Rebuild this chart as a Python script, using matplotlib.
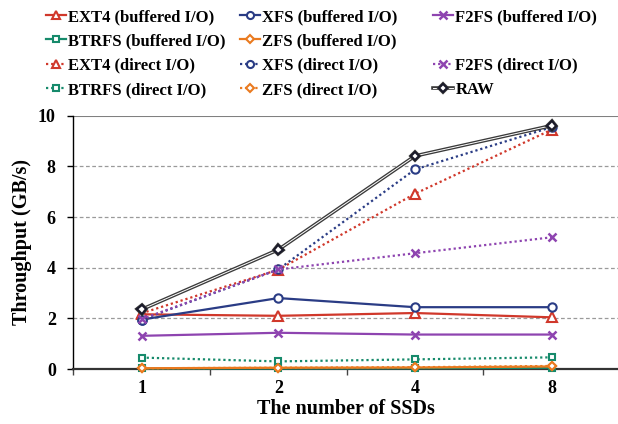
import matplotlib
matplotlib.use("Agg")
import matplotlib.pyplot as plt
import matplotlib.patheffects as pe
from matplotlib.lines import Line2D
import numpy as np

categories = ["1", "2", "4", "8"]
ext4_buf = [2.16, 2.10, 2.21, 2.04]
xfs_buf = [1.95, 2.80, 2.44, 2.44]
f2fs_buf = [1.31, 1.43, 1.36, 1.36]
btrfs_buf = [0.02, 0.02, 0.03, 0.05]
zfs_buf = [0.03, 0.05, 0.06, 0.10]
ext4_dir = [2.2, 3.92, 6.92, 9.45]
xfs_dir = [1.95, 3.93, 7.88, 9.55]
f2fs_dir = [1.97, 3.93, 4.57, 5.20]
btrfs_dir = [0.45, 0.30, 0.38, 0.46]
zfs_dir = [0.03, 0.05, 0.07, 0.12]
raw = [2.35, 4.71, 8.41, 9.61]

RED = "#D0382B"
BLUE = "#2A3C85"
PURPLE = "#8E44B0"
GREEN = "#168A6B"
ORANGE = "#EA7A1F"

plt.rcParams['font.family'] = ['Liberation Serif', 'DejaVu Serif']
plt.rcParams['font.weight'] = 'bold'

W, H = 618, 424
fig = plt.figure(figsize=(W / 100, H / 100), dpi=100)
ax = fig.add_axes([73.2 / W, 1 - 369 / H, 1 - 73.2 / W, (369 - 115.7) / H])

x = np.arange(len(categories))

def plot(vals, color, marker, ls, lw=1.6, ms=6, mew=1.5, label=None):
    return ax.plot(x, vals, color=color, marker=marker, linestyle=ls, lw=lw,
                   markersize=ms, markerfacecolor='white', markeredgecolor=color,
                   markeredgewidth=mew, label=label, clip_on=False, zorder=3)[0]

dot = (0, (1, 1.3))
h_ext4b = plot(ext4_buf, RED, '^', '-', ms=6.5, label="EXT4 (buffered I/O)")
h_xfsb = plot(xfs_buf, BLUE, 'o', '-', ms=6, label="XFS (buffered I/O)")
h_f2fsb = plot(f2fs_buf, PURPLE, 'x', '-', ms=6, mew=1.8, label="F2FS (buffered I/O)")
h_btrfsb = plot(btrfs_buf, GREEN, 's', '-', ms=5, label="BTRFS (buffered I/O)")
h_zfsb = plot(zfs_buf, ORANGE, 'D', '-', ms=4.5, label="ZFS (buffered I/O)")
h_ext4d = plot(ext4_dir, RED, '^', dot, ms=6.5, label="EXT4 (direct I/O)")
h_xfsd = plot(xfs_dir, BLUE, 'o', dot, ms=6, label="XFS (direct I/O)")
h_f2fsd = plot(f2fs_dir, PURPLE, 'x', dot, ms=6, mew=1.8, label="F2FS (direct I/O)")
h_btrfsd = plot(btrfs_dir, GREEN, 's', dot, ms=5, label="BTRFS (direct I/O)")
h_zfsd = plot(zfs_dir, ORANGE, 'D', dot, ms=4.5, label="ZFS (direct I/O)")
h_raw = ax.plot(x, raw, color='white', lw=0.7, marker='D', markersize=4.5,
                markerfacecolor='white', markeredgecolor='#1a1a2a', markeredgewidth=1.5,
                path_effects=[pe.Stroke(linewidth=2.6, foreground='#3a3a3a'), pe.Normal()],
                label="RAW", clip_on=False, zorder=4)[0]

ax.set_xlim(-0.5, (W - 141.7) / 136.7)
ax.set_ylim(0, 10)
ax.set_yticks(np.arange(0, 11, 2))
ax.set_xticks(x)
ax.set_xticklabels(categories)
ax.set_xticks(np.arange(-0.5, 3.5, 1.0), minor=True)
ax.tick_params(axis='x', which='major', length=0, labelsize=13, pad=8)
ax.tick_params(axis='x', which='minor', length=4, width=1, direction='out', color='#444444')
ax.tick_params(axis='y', length=4, width=1, labelsize=13, direction='out', pad=8.5)
for lab in ax.get_xticklabels() + ax.get_yticklabels():
    lab.set_fontweight('bold')

for yv in [2, 4, 6, 8]:
    ax.axhline(yv, color='#9a9a9a', lw=0.9, ls=(0, (3, 2)), zorder=1)
ax.axhline(10, color='#808080', lw=1.5, zorder=1)

ax.spines['top'].set_visible(False)
ax.spines['right'].set_visible(False)
ax.spines['left'].set_color('black')
ax.spines['left'].set_linewidth(1.0)
ax.spines['bottom'].set_color('#333333')
ax.spines['bottom'].set_linewidth(1.6)

ax.set_ylabel("Throughput (GB/s)", fontsize=14.5, fontweight='bold')
ax.yaxis.set_label_coords(-0.075, 0.5)
ax.set_xlabel("The number of SSDs", fontsize=14.5, fontweight='bold')
ax.xaxis.set_label_coords(0.5, -0.118)

blank = Line2D([], [], color='none', marker=None)
columns = [
    ([h_ext4b, h_btrfsb, h_ext4d, h_btrfsd],
     ["EXT4 (buffered I/O)", "BTRFS (buffered I/O)", "EXT4 (direct I/O)", "BTRFS (direct I/O)"], 46),
    ([h_xfsb, h_zfsb, h_xfsd, h_zfsd],
     ["XFS (buffered I/O)", "ZFS (buffered I/O)", "XFS (direct I/O)", "ZFS (direct I/O)"], 240),
    ([h_f2fsb, blank, h_f2fsd, h_raw],
     ["F2FS (buffered I/O)", "", "F2FS (direct I/O)", "RAW"], 433),
]
for hs, ls_, xpx in columns:
    fig.legend(hs, ls_, loc='upper left', bbox_to_anchor=(xpx / W, 1 - 9 / H),
               frameon=False, handlelength=1.2, handletextpad=0.15, borderpad=0,
               borderaxespad=0, labelspacing=0.5, prop={'size': 12, 'weight': 'bold'},
               markerscale=0.85)

fig.savefig("out.png", dpi=100)
